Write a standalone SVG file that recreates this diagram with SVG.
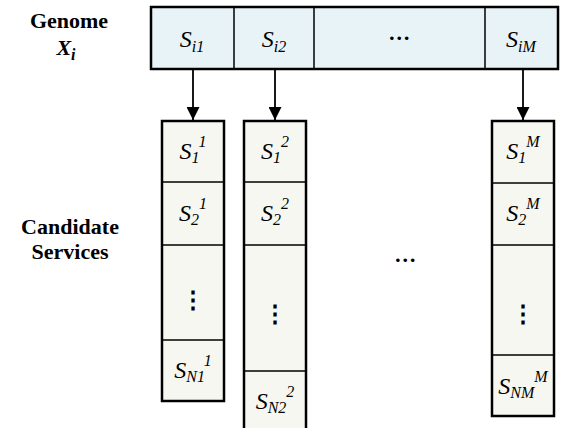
<svg xmlns="http://www.w3.org/2000/svg" width="563" height="428" viewBox="0 0 563 428" font-family="'Liberation Serif', serif">
  <defs>
    <style>
      text { font-family: 'Liberation Serif', serif; fill: #000; }
      .bar { fill: #E8F3F7; stroke: #000; stroke-width: 2.5; }
      .col { fill: #F7F7F2; stroke: #000; stroke-width: 2.5; }
      .sep { stroke: #000; stroke-width: 1.5; }
      .s { font-style: italic; font-size: 24px; text-anchor: middle; }
      .sub { font-size: 16px; }
      .lbl { font-weight: bold; font-size: 22px; text-anchor: middle; }
      .dots { font-weight: bold; font-style: italic; font-size: 22px; text-anchor: middle; }
      .vdots { font-weight: bold; font-size: 24px; text-anchor: middle; }
      .link { stroke: #000; stroke-width: 1.8; fill: none; }
    </style>
    <marker id="arrow" viewBox="0 0 12 12" refX="12" refY="6" markerWidth="14" markerHeight="13" markerUnits="userSpaceOnUse" orient="auto">
      <path d="M0,0 L12,6 L0,12 z" fill="#000"/>
    </marker>
  </defs>

  <!-- side labels -->
  <g id="label-genome">
    <text class="lbl" x="69" y="28">Genome</text>
    <text class="lbl" x="66" y="55" font-style="italic">X<tspan class="sub" dy="5">i</tspan></text>
  </g>
  <g id="label-candidates">
    <text class="lbl" x="70" y="234">Candidate</text>
    <text class="lbl" x="70" y="259">Services</text>
  </g>

  <!-- genome bar -->
  <g id="genome">
    <rect class="bar" x="151" y="7" width="407" height="62"/>
    <line class="sep" x1="234" y1="7" x2="234" y2="69"/>
    <line class="sep" x1="314" y1="7" x2="314" y2="69"/>
    <line class="sep" x1="485" y1="7" x2="485" y2="69"/>
    <text class="s" x="192" y="47">S<tspan class="sub" dy="5">i1</tspan></text>
    <text class="s" x="274" y="47">S<tspan class="sub" dy="5">i2</tspan></text>
    <text class="dots" x="400" y="40">…</text>
    <text class="s" x="521" y="47">S<tspan class="sub" dy="5">iM</tspan></text>
  </g>

  <!-- candidate column for service 1 -->
  <g id="column-1">
    <rect class="col" x="162" y="121" width="62" height="280"/>
    <line class="sep" x1="162" y1="182" x2="224" y2="182"/>
    <line class="sep" x1="162" y1="245" x2="224" y2="245"/>
    <line class="sep" x1="162" y1="340" x2="224" y2="340"/>
    <text class="s" x="193" y="159">S<tspan class="sub" dy="4">1</tspan><tspan class="sub" dy="-16">1</tspan></text>
    <text class="s" x="193" y="221">S<tspan class="sub" dy="4">2</tspan><tspan class="sub" dy="-16">1</tspan></text>
    <text class="vdots" x="193" y="308">⋮</text>
    <text class="s" x="193" y="378">S<tspan class="sub" dy="4">N1</tspan><tspan class="sub" dy="-16">1</tspan></text>
  </g>

  <!-- candidate column for service 2 -->
  <g id="column-2">
    <rect class="col" x="244" y="121" width="62" height="320"/>
    <line class="sep" x1="244" y1="182" x2="306" y2="182"/>
    <line class="sep" x1="244" y1="245" x2="306" y2="245"/>
    <line class="sep" x1="244" y1="371" x2="306" y2="371"/>
    <text class="s" x="275" y="159">S<tspan class="sub" dy="4">1</tspan><tspan class="sub" dy="-16">2</tspan></text>
    <text class="s" x="275" y="221">S<tspan class="sub" dy="4">2</tspan><tspan class="sub" dy="-16">2</tspan></text>
    <text class="vdots" x="275" y="322">⋮</text>
    <text class="s" x="275" y="409">S<tspan class="sub" dy="4">N2</tspan><tspan class="sub" dy="-16">2</tspan></text>
  </g>

  <!-- middle ellipsis between columns -->
  <g id="ellipsis">
    <text class="dots" x="406" y="262">…</text>
  </g>

  <!-- candidate column for service M -->
  <g id="column-M">
    <rect class="col" x="492" y="121" width="62" height="295"/>
    <line class="sep" x1="492" y1="183" x2="554" y2="183"/>
    <line class="sep" x1="492" y1="245" x2="554" y2="245"/>
    <line class="sep" x1="492" y1="355" x2="554" y2="355"/>
    <text class="s" x="523" y="159">S<tspan class="sub" dy="4">1</tspan><tspan class="sub" dy="-16">M</tspan></text>
    <text class="s" x="523" y="221">S<tspan class="sub" dy="4">2</tspan><tspan class="sub" dy="-16">M</tspan></text>
    <text class="vdots" x="523" y="322">⋮</text>
    <text class="s" x="523" y="394">S<tspan class="sub" dy="4">NM</tspan><tspan class="sub" dy="-16">M</tspan></text>
  </g>

  <!-- connectors from genes to candidate columns -->
  <g id="connectors">
    <line class="link" x1="193" y1="69" x2="193" y2="120" marker-end="url(#arrow)"/>
    <line class="link" x1="275" y1="69" x2="275" y2="120" marker-end="url(#arrow)"/>
    <line class="link" x1="523" y1="69" x2="523" y2="120" marker-end="url(#arrow)"/>
  </g>
</svg>
